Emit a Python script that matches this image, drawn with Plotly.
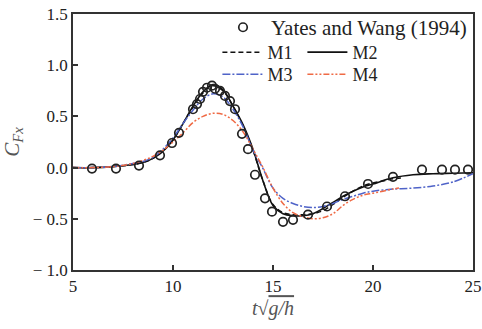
import plotly.graph_objects as go

# Experimental data (Yates and Wang 1994)
exp_t = [5.95, 7.15, 8.3, 9.35, 9.95, 10.3, 11.0, 11.2, 11.35, 11.5, 11.7, 11.95, 12.1, 12.35,
         12.6, 12.85, 13.1, 13.45, 13.75, 14.1, 14.6, 14.95, 15.5, 16.0, 16.75, 17.7, 18.6,
         19.75, 21.0, 22.45, 23.45, 24.1, 24.75]
exp_c = [-0.01, -0.01, 0.02, 0.12, 0.24, 0.34, 0.57, 0.62, 0.67, 0.74, 0.78, 0.8, 0.77, 0.75,
         0.7, 0.65, 0.57, 0.33, 0.18, -0.07, -0.3, -0.43, -0.53, -0.51, -0.46, -0.38, -0.28,
         -0.16, -0.09, -0.02, -0.02, -0.02, -0.02]

# M1 (dashed black)
m1_t = [5, 6, 7, 8, 8.5, 9, 9.5, 10, 10.5, 11, 11.5, 12, 12.5, 13, 13.5, 14, 14.5, 15, 15.5,
        16, 16.5, 17, 17.5, 18, 18.5, 19, 19.5, 20, 20.5, 21, 21.5]
m1_c = [0.0, 0.0, 0.01, 0.03, 0.05, 0.09, 0.16, 0.27, 0.43, 0.59, 0.73, 0.8, 0.75, 0.6, 0.41,
        0.17, -0.13, -0.36, -0.44, -0.46, -0.46, -0.45, -0.42, -0.36, -0.29, -0.23, -0.18,
        -0.15, -0.13, -0.11, -0.1]

# M2 (solid black)
m2_t = [5, 6, 7, 8, 8.5, 9, 9.5, 10, 10.5, 11, 11.5, 12, 12.5, 13, 13.5, 14, 14.5, 15, 15.5,
        16, 16.5, 17, 17.5, 18, 18.5, 19, 19.5, 20, 21, 22, 23, 24, 25]
m2_c = [0.0, 0.0, 0.01, 0.03, 0.05, 0.09, 0.16, 0.27, 0.43, 0.6, 0.74, 0.81, 0.76, 0.6, 0.42,
        0.18, -0.13, -0.37, -0.45, -0.47, -0.47, -0.45, -0.4, -0.34, -0.28, -0.23, -0.19,
        -0.16, -0.1, -0.07, -0.06, -0.055, -0.05]

# M3 (blue dash-dot)
m3_t = [5, 6, 7, 8, 8.5, 9, 9.5, 10, 10.5, 11, 11.5, 12, 12.5, 13, 13.5, 14, 14.5, 15, 15.5,
        16, 16.5, 17, 17.5, 18, 18.5, 19, 19.5, 20, 21, 22, 23, 24, 25]
m3_c = [0.0, 0.0, 0.01, 0.04, 0.06, 0.1, 0.18, 0.29, 0.43, 0.56, 0.67, 0.72, 0.69, 0.57, 0.4,
        0.17, -0.01, -0.2, -0.3, -0.35, -0.38, -0.39, -0.38, -0.35, -0.31, -0.28, -0.25,
        -0.23, -0.21, -0.2, -0.18, -0.14, -0.06]

# M4 (red dash-dot-dot)
m4_t = [5, 6, 7, 8, 8.5, 9, 9.5, 10, 10.5, 11, 11.5, 12, 12.5, 13, 13.5, 14, 14.5, 15, 15.5,
        16, 16.5, 17, 17.5, 18, 18.5, 19, 19.5, 20, 20.5, 21, 21.3]
m4_c = [0.0, 0.0, 0.01, 0.04, 0.07, 0.11, 0.17, 0.25, 0.34, 0.44, 0.5, 0.53, 0.52, 0.46, 0.35,
        0.18, 0.0, -0.2, -0.35, -0.44, -0.48, -0.5, -0.49, -0.45, -0.37, -0.31, -0.27, -0.25,
        -0.23, -0.21, -0.2]

x_ticks = [5, 10, 15, 20, 25]
y_ticks = [-1.0, -0.5, 0.0, 0.5, 1.0, 1.5]
y_ticktext = ["\u2212 1.0", "\u2212 0.5", "0.0", "0.5", "1.0", "1.5"]

SERIF = "Liberation Serif, Times New Roman, serif"
BLUE = "#4f63c8"
RED = "#ef6a45"

fig = go.Figure()
fig.add_trace(go.Scatter(x=m1_t, y=m1_c, mode="lines", name="M1", legend="legend2",
                         line=dict(color="#111111", width=1.5, dash="5px,3px", shape="spline")))
fig.add_trace(go.Scatter(x=m2_t, y=m2_c, mode="lines", name="M2", legend="legend2",
                         line=dict(color="#111111", width=1.6, shape="spline")))
fig.add_trace(go.Scatter(x=m3_t, y=m3_c, mode="lines", name="M3", legend="legend3",
                         line=dict(color=BLUE, width=1.5, dash="8px,2px,2px,2px", shape="spline")))
fig.add_trace(go.Scatter(x=m4_t, y=m4_c, mode="lines", name="M4", legend="legend3",
                         line=dict(color=RED, width=1.5, dash="6px,2px,2px,2px,2px,2px", shape="spline")))
fig.add_trace(go.Scatter(x=exp_t, y=exp_c, mode="markers", name="Yates and Wang (1994)",
                         legend="legend",
                         marker=dict(symbol="circle-open", size=8.5, color="#222222",
                                     line=dict(width=1.7, color="#222222"))))

axis_common = dict(showline=True, linecolor="#333333", linewidth=1.5, mirror=True,
                   ticks="inside", ticklen=5, tickwidth=1.5, tickcolor="#333333",
                   showgrid=False, zeroline=False,
                   tickfont=dict(family=SERIF, size=17, color="#222222"))

fig.update_layout(
    width=482, height=329,
    margin=dict(l=73, r=9, t=14, b=59, autoexpand=False),
    plot_bgcolor="white", paper_bgcolor="white",
    xaxis=dict(range=[5, 25], tickvals=x_ticks, ticktext=[str(v) for v in x_ticks],
               title=dict(text="<i>t</i>\u221A<span style='text-decoration:overline'><i>g/h</i></span>",
                          font=dict(family=SERIF, size=20, color="#555555"), standoff=6),
               **axis_common),
    yaxis=dict(range=[-1.0, 1.5], tickvals=y_ticks, ticktext=y_ticktext,
               title=dict(text="<i>C</i><sub><i>Fx</i></sub>",
                          font=dict(family=SERIF, size=21, color="#555555"), standoff=10),
               **axis_common),
    legend=dict(x=0.355, y=1.027, xanchor="left", yanchor="top", bgcolor="rgba(0,0,0,0)",
                font=dict(family=SERIF, size=21, color="#222222"), itemwidth=46, tracegroupgap=0),
    legend2=dict(x=0.361, y=0.922, xanchor="left", yanchor="top", orientation="h",
                 bgcolor="rgba(0,0,0,0)", font=dict(family=SERIF, size=18, color="#222222"),
                 itemwidth=40, entrywidth=30),
    legend3=dict(x=0.361, y=0.836, xanchor="left", yanchor="top", orientation="h",
                 bgcolor="rgba(0,0,0,0)", font=dict(family=SERIF, size=18, color="#222222"),
                 itemwidth=40, entrywidth=30),
    showlegend=True,
)

fig.write_html("out.html")
